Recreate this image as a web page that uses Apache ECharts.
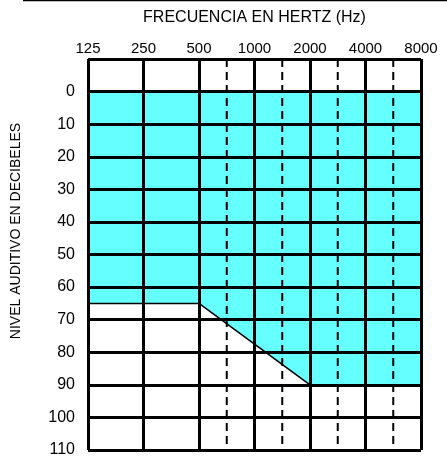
<!DOCTYPE html>
<html>
<head>
<meta charset="utf-8">
<script src="https://cdn.jsdelivr.net/npm/echarts@6/dist/echarts.min.js"></script>
<style>
  html, body { margin: 0; padding: 0; background: #fff; }
  #chart { width: 447px; height: 458px; }
</style>
</head>
<body>
<div id="chart"></div>
<script>
// octave frequencies along the top axis
var freqs = [125, 250, 500, 1000, 2000, 4000, 8000];
// inter-octave frequencies (dashed lines)
var midFreqs = [750, 1500, 3000, 6000];
// hearing level ticks (dB)
var dbTicks = [0, 10, 20, 30, 40, 50, 60, 70, 80, 90, 100, 110];
// lower edge of the shaded zone
var zoneFreqs = [125, 500, 2000, 8000];
var zoneDb = [65, 65, 90, 90];

var CYAN = "#66ffff";
var FONT = "'Liberation Sans', Arial, sans-serif";

// octave index of a frequency (125 Hz -> 0)
var octave = function (f) {
	return Math.log2(f / 125);
};
// dashed lines sit half way between the two octaves around them
var midOctave = function (f) {
	return Math.floor(octave(f)) + 0.5;
};

var zoneData = [];
for (var i = 0; i < zoneFreqs.length; i++) {
	zoneData.push([octave(zoneFreqs[i]), zoneDb[i]]);
}

var series = [{
	type: "line",
	data: zoneData,
	symbol: "none",
	z: 2,
	lineStyle: { color: "#000", width: 1.5 },
	areaStyle: { color: CYAN, opacity: 1, origin: 0 },
	silent: true
}];

for (var k = 0; k < midFreqs.length; k++) {
	var x = midOctave(midFreqs[k]);
	series.push({
		type: "line",
		data: [[x, -10], [x, 110]],
		symbol: "none",
		z: 3,
		lineStyle: { color: "#000", width: 2, type: [8, 5] },
		silent: true
	});
}

var chart = echarts.init(document.getElementById("chart"));
chart.setOption({
	animation: false,
	grid: { left: 88, right: 26, top: 59, bottom: 1, containLabel: false },
	xAxis: {
		type: "value",
		position: "top",
		min: 0,
		max: 6,
		interval: 1,
		z: 5,
		name: "FRECUENCIA EN HERTZ (Hz)",
		nameLocation: "middle",
		nameGap: 33,
		nameTextStyle: { fontFamily: FONT, fontSize: 16, color: "#000" },
		axisLine: { show: false },
		axisTick: { show: false },
		axisLabel: {
			margin: 3,
			fontFamily: FONT,
			fontSize: 15,
			color: "#000",
			formatter: function (v) {
				var idx = Math.round(v);
				return freqs[idx] !== undefined ? String(freqs[idx]) : "";
			}
		},
		splitLine: { show: true, lineStyle: { color: "#000", width: 3 } }
	},
	yAxis: {
		type: "value",
		inverse: true,
		min: -10,
		max: 110,
		interval: 10,
		z: 5,
		axisLine: { show: false },
		axisTick: { show: false },
		axisLabel: {
			margin: 13,
			fontFamily: FONT,
			fontSize: 16,
			color: "#000",
			formatter: function (v) {
				return dbTicks.indexOf(v) >= 0 ? String(v) : "";
			}
		},
		splitLine: { show: true, lineStyle: { color: "#000", width: 3 } }
	},
	graphic: [
		{
			type: "line",
			shape: { x1: 23, y1: 0.5, x2: 447, y2: 0.5 },
			style: { stroke: "#000", lineWidth: 1.5 }
		},
		{
			type: "text",
			x: 16.5,
			y: 231,
			rotation: Math.PI / 2,
			style: {
				text: "NIVEL AUDITIVO EN DECIBELES",
				font: "14px " + FONT,
				fill: "#000",
				align: "center",
				verticalAlign: "middle"
			}
		}
	],
	series: series
});
</script>
</body>
</html>
